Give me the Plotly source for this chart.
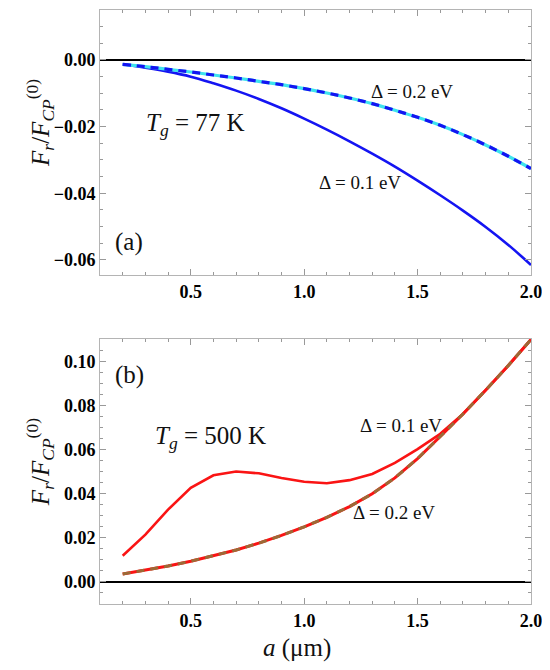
import plotly.graph_objects as go

# separation a (micrometres)
a_um = [0.2, 0.3, 0.4, 0.5, 0.6, 0.7, 0.8, 0.9, 1.0, 1.1,
        1.2, 1.3, 1.4, 1.5, 1.6, 1.7, 1.8, 1.9, 2.0]

# panel (a): Tg = 77 K
f77_gap01 = [-0.0013, -0.0023, -0.0035, -0.0050, -0.0070, -0.0092, -0.0117, -0.0145, -0.0176, -0.0209,
             -0.0244, -0.0281, -0.0320, -0.0362, -0.0406, -0.0452, -0.0501, -0.0555, -0.0615]
f77_gap02 = [-0.0013, -0.0020, -0.0028, -0.0036, -0.0045, -0.0054, -0.0064, -0.0074, -0.0086, -0.0099,
             -0.0114, -0.0131, -0.0151, -0.0172, -0.0196, -0.0224, -0.0255, -0.0289, -0.0326]

# panel (b): Tg = 500 K
f500_gap01 = [0.0119, 0.0215, 0.0328, 0.0427, 0.0484, 0.0501, 0.0493, 0.0472, 0.0455, 0.0448,
              0.0462, 0.0490, 0.0540, 0.0603, 0.0672, 0.0762, 0.0870, 0.0982, 0.1100]
f500_gap02 = [0.0036, 0.0053, 0.0072, 0.0094, 0.0118, 0.0145, 0.0176, 0.0211, 0.0250, 0.0293,
              0.0342, 0.0400, 0.0472, 0.0560, 0.0660, 0.0762, 0.0870, 0.0982, 0.1100]

SERIF = "Liberation Serif"
BLUE = "#1414f2"
CYAN = "#3fe3ee"
RED = "#fa1414"
BROWN = "#9c6a36"
FRAME = "#b4b4b4"

fig = go.Figure()

# (a)
fig.add_trace(go.Scatter(x=a_um, y=f77_gap01, mode="lines", line=dict(color=BLUE, width=2.6, shape="spline"),
                         xaxis="x", yaxis="y"))
fig.add_trace(go.Scatter(x=a_um, y=f77_gap02, mode="lines", line=dict(color=CYAN, width=3.2, shape="spline"),
                         xaxis="x", yaxis="y"))
fig.add_trace(go.Scatter(x=a_um, y=f77_gap02, mode="lines",
                         line=dict(color=BLUE, width=3.2, dash="8px,6px", shape="spline"),
                         xaxis="x", yaxis="y"))

# (b)
fig.add_trace(go.Scatter(x=a_um, y=f500_gap01, mode="lines", line=dict(color=RED, width=2.6),
                         xaxis="x2", yaxis="y2"))
fig.add_trace(go.Scatter(x=a_um, y=f500_gap02, mode="lines", line=dict(color=RED, width=3),
                         xaxis="x2", yaxis="y2"))
fig.add_trace(go.Scatter(x=a_um, y=f500_gap02, mode="lines",
                         line=dict(color=BROWN, width=3, dash="8px,6px"),
                         xaxis="x2", yaxis="y2"))

tickfont = dict(family=SERIF, size=18, color="black", weight="bold")


def xaxis_style(anchor):
    return dict(
        domain=[0, 1], anchor=anchor, range=[0.1, 2.0],
        tick0=0, dtick=0.5, tickformat=".1f",
        ticks="inside", ticklen=6, tickcolor="#999999",
        showline=True, linecolor=FRAME, linewidth=1, mirror="allticks",
        showgrid=False, zeroline=False, tickfont=tickfont,
        minor=dict(ticks="inside", dtick=0.1, tick0=0, ticklen=3, tickcolor="#999999", showgrid=False),
    )


def yaxis_style(anchor, dom, rng):
    return dict(
        domain=dom, anchor=anchor, range=rng,
        tick0=0, dtick=0.02, tickformat=".2f",
        ticks="inside", ticklen=6, tickcolor="#999999",
        showline=True, linecolor=FRAME, linewidth=1, mirror="allticks",
        showgrid=False, zeroline=False, tickfont=tickfont,
        minor=dict(ticks="inside", dtick=0.005, tick0=0, ticklen=3, tickcolor="#999999", showgrid=False),
    )


# the page body adds an 8px margin, so the figure is 8px smaller than the window
fig.update_layout(
    width=542, height=662,
    margin=dict(l=92, r=19, t=2, b=66),
    paper_bgcolor="white", plot_bgcolor="white",
    showlegend=False,
    xaxis=xaxis_style("y"),
    yaxis=yaxis_style("x", [0.554, 1.0], [-0.0645, 0.015]),
    xaxis2=xaxis_style("y2"),
    yaxis2=yaxis_style("x2", [0.0, 0.446], [-0.01, 0.1102]),
)

# zero lines
fig.add_shape(type="line", xref="x domain", yref="y", x0=0, x1=1, y0=0, y1=0,
              line=dict(color="black", width=2), layer="below")
fig.add_shape(type="line", xref="x2 domain", yref="y2", x0=0, x1=1, y0=0, y1=0,
              line=dict(color="black", width=2), layer="below")

ann_font = dict(family=SERIF, size=19, color="#111111")
big_font = dict(family=SERIF, size=25, color="#111111")
frac = "<i>F</i><sub><i>r</i></sub>/<i>F</i><sub><i>CP</i></sub><sup>(0)</sup>"

annotations = [
    dict(x=0.519, y=-0.0195, xref="x", yref="y",
         text="<i>T</i><sub><i>g</i></sub> = 77 K", font=big_font),
    dict(x=1.476, y=-0.0096, xref="x", yref="y", text="Δ = 0.2 eV", font=ann_font),
    dict(x=1.244, y=-0.0369, xref="x", yref="y", text="Δ = 0.1 eV", font=ann_font),
    dict(x=0.228, y=-0.0546, xref="x", yref="y", text="(a)", font=big_font),
    dict(x=0.228, y=0.0939, xref="x2", yref="y2", text="(b)", font=big_font),
    dict(x=0.585, y=0.0654, xref="x2", yref="y2",
         text="<i>T</i><sub><i>g</i></sub> = 500 K", font=big_font),
    dict(x=1.427, y=0.0712, xref="x2", yref="y2", text="Δ = 0.1 eV", font=ann_font),
    dict(x=1.396, y=0.0313, xref="x2", yref="y2", text="Δ = 0.2 eV", font=ann_font),
    dict(x=-0.139, y=0.81, xref="paper", yref="paper", textangle=-90, text=frac, font=big_font),
    dict(x=-0.139, y=0.239, xref="paper", yref="paper", textangle=-90, text=frac, font=big_font),
    dict(x=0.457, y=-0.074, xref="paper", yref="paper", text="<i>a</i> (μm)", font=big_font),
]
for ann in annotations:
    ann["showarrow"] = False
    ann["xanchor"] = "center"
    ann["yanchor"] = "middle"
fig.update_layout(annotations=annotations)

fig.write_html("out.html")
